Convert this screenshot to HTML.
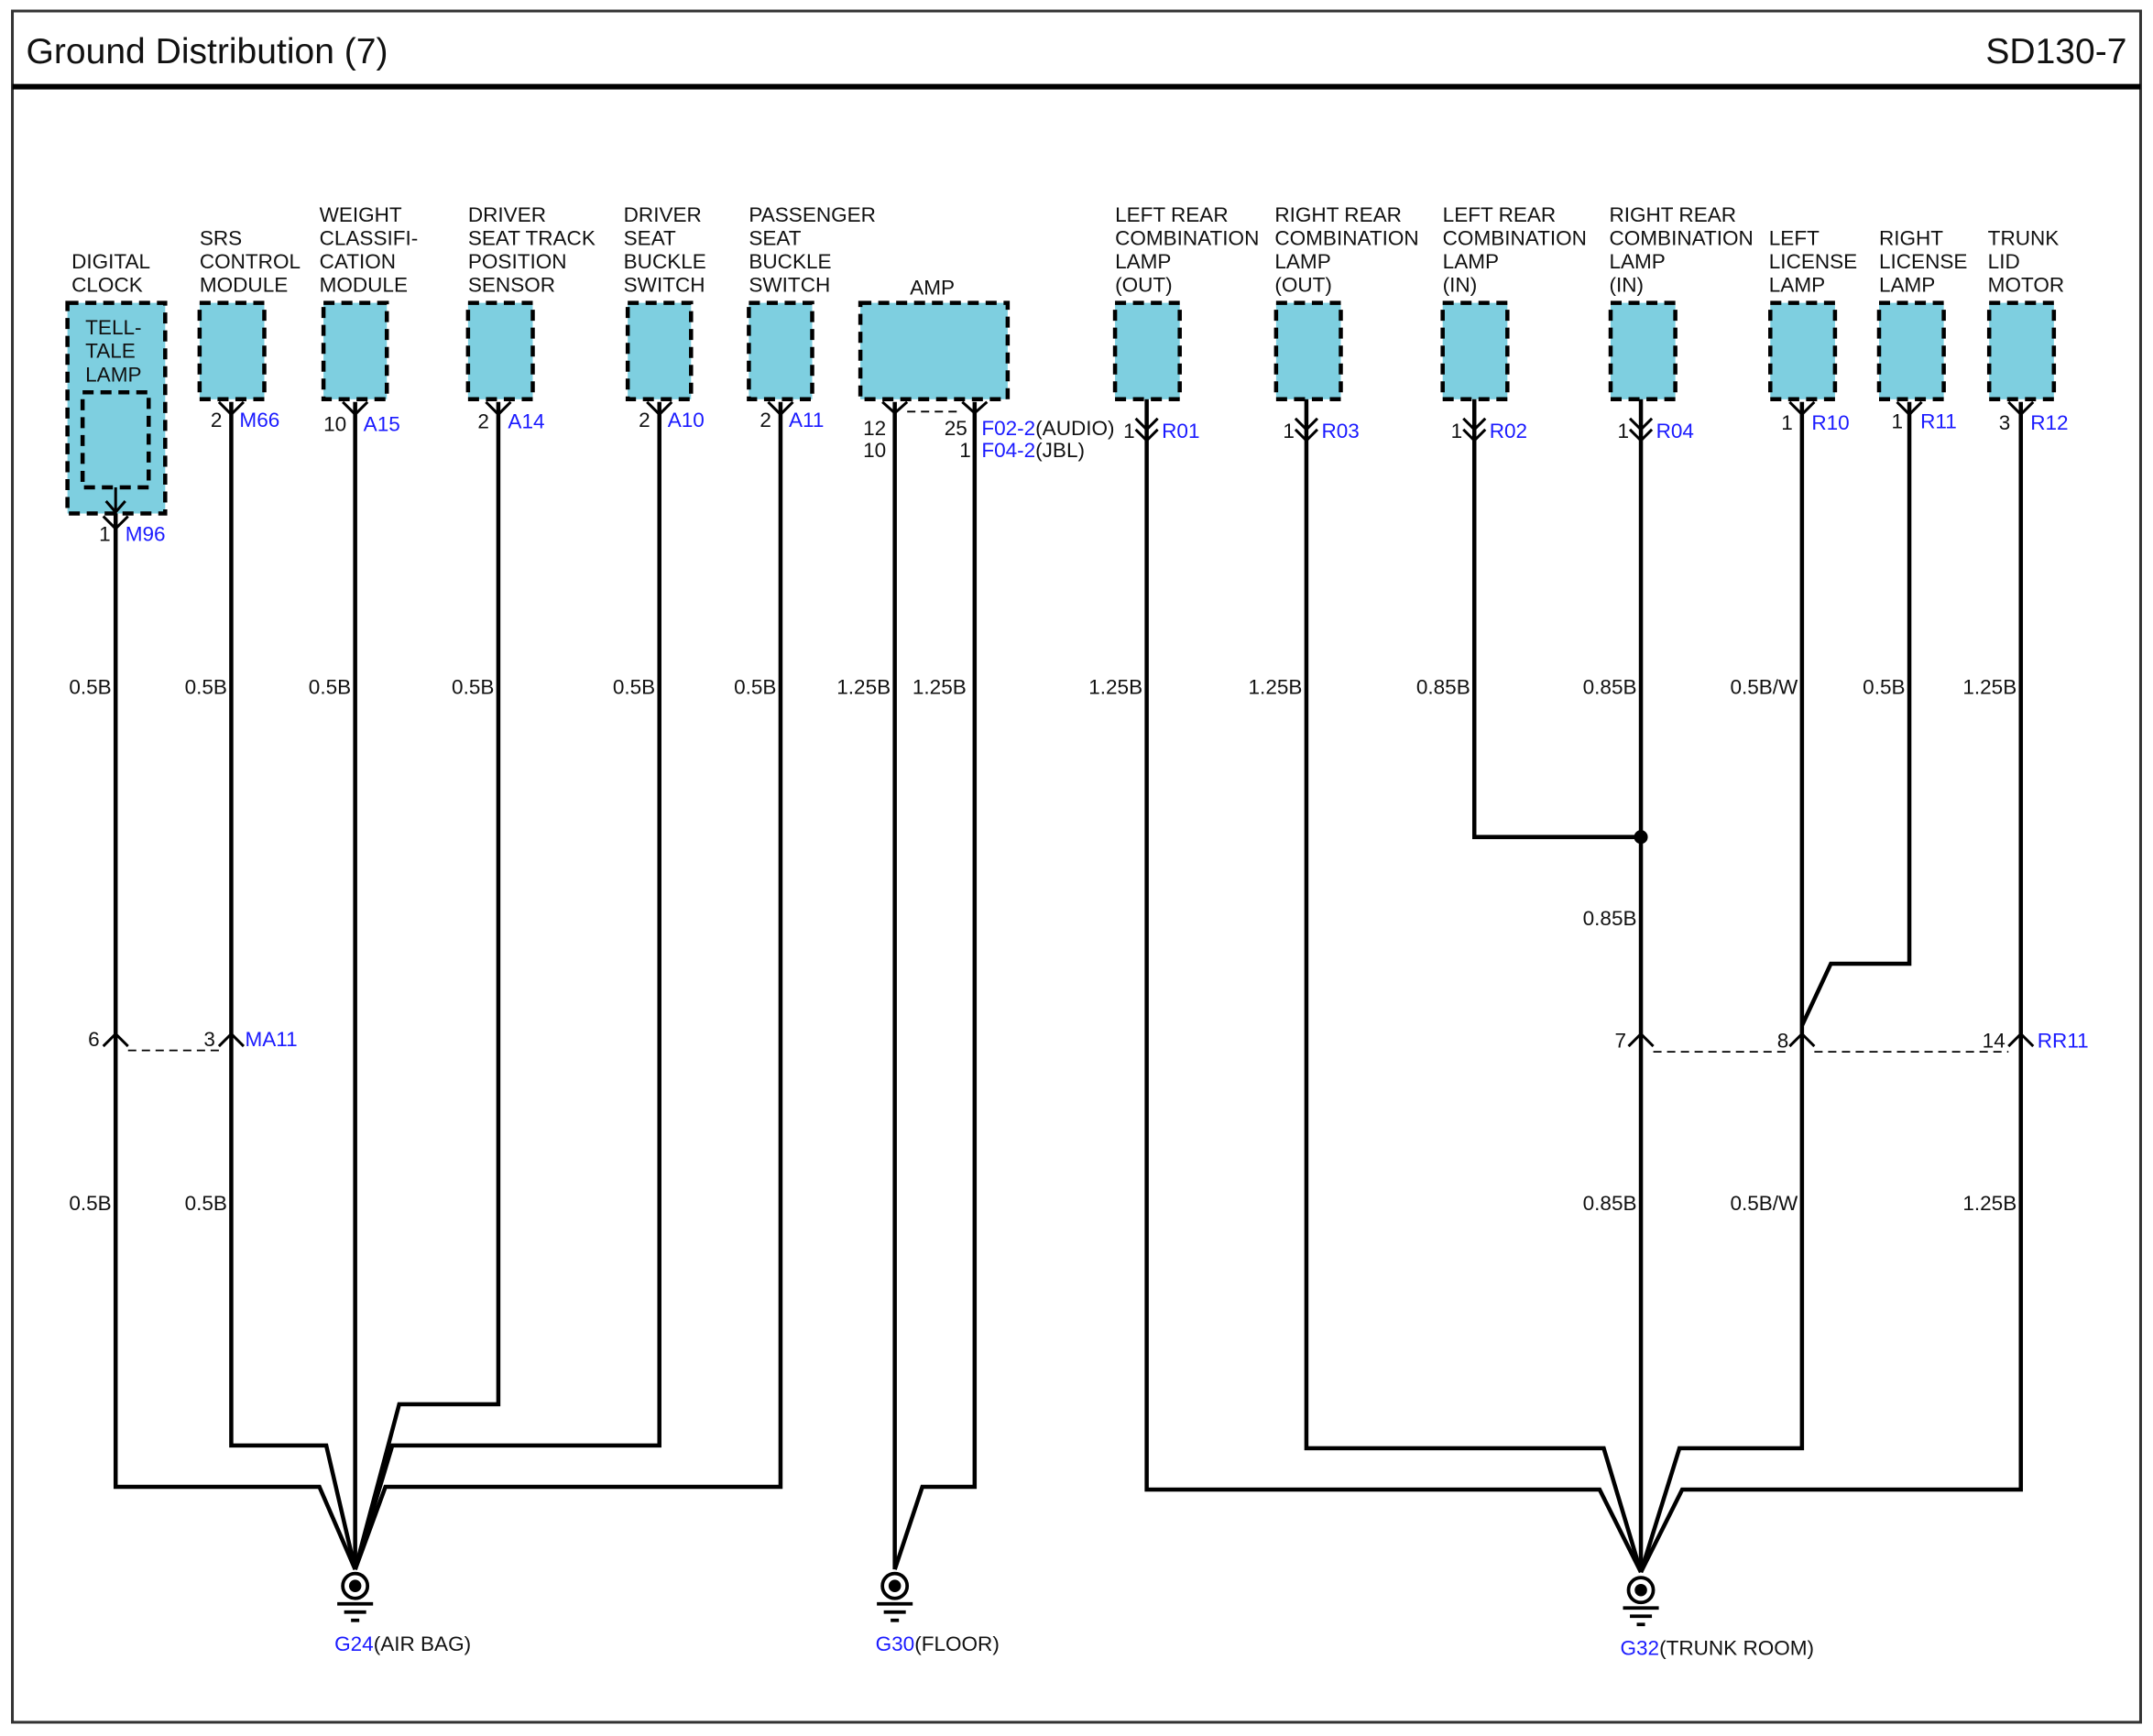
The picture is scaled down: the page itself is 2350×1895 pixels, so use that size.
<!DOCTYPE html>
<html><head><meta charset="utf-8"><style>
html,body{margin:0;padding:0;background:#fff}
svg{display:block}
text{font-family:"Liberation Sans",Arial,sans-serif;font-size:15px;fill:#111}
.b{fill:#1a1aff}
.w{stroke:#000;stroke-width:3;fill:none;stroke-linejoin:miter}
.box{fill:#7ecfe0;stroke:#000;stroke-width:3;stroke-dasharray:8,5}
.c{stroke:#000;stroke-width:2;fill:none}
.d{stroke:#000;stroke-width:1.2;stroke-dasharray:6,4;fill:none}
</style></head><body>
<svg width="2350" height="1895" viewBox="0 0 1564 1261" preserveAspectRatio="none" xmlns="http://www.w3.org/2000/svg">
<rect x="9" y="8" width="1546" height="1243" fill="none" stroke="#333" stroke-width="2"/>
<line x1="9" y1="63" x2="1555" y2="63" stroke="#000" stroke-width="4"/>
<text x="19" y="46" style="font-size:26px">Ground Distribution (7)</text>
<text x="1545" y="46" text-anchor="end" style="font-size:26px">SD130-7</text>

<!-- component labels -->
<g>
<text x="52" y="195">DIGITAL</text><text x="52" y="212">CLOCK</text>
<text x="145" y="178">SRS</text><text x="145" y="195">CONTROL</text><text x="145" y="212">MODULE</text>
<text x="232" y="161">WEIGHT</text><text x="232" y="178">CLASSIFI-</text><text x="232" y="195">CATION</text><text x="232" y="212">MODULE</text>
<text x="340" y="161">DRIVER</text><text x="340" y="178">SEAT TRACK</text><text x="340" y="195">POSITION</text><text x="340" y="212">SENSOR</text>
<text x="453" y="161">DRIVER</text><text x="453" y="178">SEAT</text><text x="453" y="195">BUCKLE</text><text x="453" y="212">SWITCH</text>
<text x="544" y="161">PASSENGER</text><text x="544" y="178">SEAT</text><text x="544" y="195">BUCKLE</text><text x="544" y="212">SWITCH</text>
<text x="661" y="214">AMP</text>
<text x="810" y="161">LEFT REAR</text><text x="810" y="178">COMBINATION</text><text x="810" y="195">LAMP</text><text x="810" y="212">(OUT)</text>
<text x="926" y="161">RIGHT REAR</text><text x="926" y="178">COMBINATION</text><text x="926" y="195">LAMP</text><text x="926" y="212">(OUT)</text>
<text x="1048" y="161">LEFT REAR</text><text x="1048" y="178">COMBINATION</text><text x="1048" y="195">LAMP</text><text x="1048" y="212">(IN)</text>
<text x="1169" y="161">RIGHT REAR</text><text x="1169" y="178">COMBINATION</text><text x="1169" y="195">LAMP</text><text x="1169" y="212">(IN)</text>
<text x="1285" y="178">LEFT</text><text x="1285" y="195">LICENSE</text><text x="1285" y="212">LAMP</text>
<text x="1365" y="178">RIGHT</text><text x="1365" y="195">LICENSE</text><text x="1365" y="212">LAMP</text>
<text x="1444" y="178">TRUNK</text><text x="1444" y="195">LID</text><text x="1444" y="212">MOTOR</text>
</g>

<!-- boxes -->
<rect class="box" x="49" y="220" width="71" height="153"/>
<rect class="box" x="60" y="285" width="48" height="69"/>
<text x="62" y="243">TELL-</text><text x="62" y="260">TALE</text><text x="62" y="277">LAMP</text>
<rect class="box" x="145" y="220" width="47" height="70"/>
<rect class="box" x="235" y="220" width="46" height="70"/>
<rect class="box" x="340" y="220" width="47" height="70"/>
<rect class="box" x="456" y="220" width="46" height="70"/>
<rect class="box" x="544" y="220" width="46" height="70"/>
<rect class="box" x="625" y="220" width="107" height="70"/>
<rect class="box" x="810" y="220" width="47" height="70"/>
<rect class="box" x="927" y="220" width="47" height="70"/>
<rect class="box" x="1048" y="220" width="47" height="70"/>
<rect class="box" x="1170" y="220" width="47" height="70"/>
<rect class="box" x="1286" y="220" width="47" height="70"/>
<rect class="box" x="1365" y="220" width="47" height="70"/>
<rect class="box" x="1445" y="220" width="47" height="70"/>

<!-- connector symbols (Y type) -->
<g class="c">
<path d="M84 354V373M77 364L84 372L91 364"/>
<path d="M75 375L84 384L93 375"/>
<path d="M159 292L168 301L177 292"/>
<path d="M249 292L258 301L267 292"/>
<path d="M353 292L362 301L371 292"/>
<path d="M470 292L479 301L488 292"/>
<path d="M558 292L567 301L576 292"/>
<path d="M641 292L650 300L659 292M699 292L708 300L717 292"/>
</g>
<line x1="659" y1="299" x2="699" y2="299" class="d"/>
<g class="c">
<path d="M159 292L168 301L177 292" transform="translate(1141,0)"/>
<path d="M159 292L168 301L177 292" transform="translate(1219,0)"/>
<path d="M159 292L168 301L177 292" transform="translate(1300,0)"/>
</g>
<!-- R-type -->
<g class="c">
<path d="M825 304L833 312L841 304M825 312L833 320L841 312"/>
<path d="M941 304L949 312L957 304M941 312L949 320L957 312"/>
<path d="M1063 304L1071 312L1079 304M1063 312L1071 320L1079 312"/>
<path d="M1184 304L1192 312L1200 304M1184 312L1192 320L1200 312"/>
</g>
<!-- MA11 / RR11 connectors (inverted) -->
<g class="c">
<path d="M75 760L84 751L93 760"/>
<path d="M159 760L168 751L177 760"/>
<path d="M1183 760L1192 751L1201 760"/>
<path d="M1300 760L1309 751L1318 760"/>
<path d="M1459 760L1468 751L1477 760"/>
</g>
<line x1="93" y1="763" x2="159" y2="763" class="d"/>
<line x1="1201" y1="764" x2="1300" y2="764" class="d"/>
<line x1="1318" y1="764" x2="1459" y2="764" class="d"/>

<!-- wires -->
<g class="w">
<path d="M84 373V1080H232L258 1140"/>
<path d="M168 292V1050H237L258 1140"/>
<path d="M258 292V1140"/>
<path d="M362 292V1020H290L258 1140"/>
<path d="M479 292V1050H285L258 1140"/>
<path d="M567 292V1080H280L258 1140"/>
<path d="M650 292V1140"/>
<path d="M708 292V1080H670L650 1140"/>
<path d="M833 290V1082H1162L1192 1142"/>
<path d="M949 290V1052H1165L1192 1142"/>
<path d="M1071 290V608H1192"/>
<path d="M1192 290V1142"/>
<path d="M1309 292V1052H1220L1192 1142"/>
<path d="M1387 292V700H1330L1309 745"/>
<path d="M1468 292V1082H1222L1192 1142"/>
</g>
<circle cx="1192" cy="608" r="5" fill="#000"/>

<!-- grounds -->
<g>
<circle cx="258" cy="1152" r="9" fill="#fff" stroke="#000" stroke-width="2.5"/><circle cx="258" cy="1152" r="4.5" fill="#000"/>
<path d="M245 1165H271M250 1171H266M255 1177H261" stroke="#000" stroke-width="2.5"/>
<circle cx="650" cy="1152" r="9" fill="#fff" stroke="#000" stroke-width="2.5"/><circle cx="650" cy="1152" r="4.5" fill="#000"/>
<path d="M637 1165H663M642 1171H658M647 1177H653" stroke="#000" stroke-width="2.5"/>
<circle cx="1192" cy="1155" r="9" fill="#fff" stroke="#000" stroke-width="2.5"/><circle cx="1192" cy="1155" r="4.5" fill="#000"/>
<path d="M1179 1168H1205M1184 1174H1200M1189 1180H1195" stroke="#000" stroke-width="2.5"/>
</g>
<text x="243" y="1199"><tspan class="b">G24</tspan>(AIR BAG)</text>
<text x="636" y="1199"><tspan class="b">G30</tspan>(FLOOR)</text>
<text x="1177" y="1202"><tspan class="b">G32</tspan>(TRUNK ROOM)</text>

<!-- pin / connector labels -->
<text x="72" y="393">1</text><text x="91" y="393" class="b">M96</text>
<text x="153" y="310">2</text><text x="174" y="310" class="b">M66</text>
<text x="235" y="313">10</text><text x="264" y="313" class="b">A15</text>
<text x="347" y="311">2</text><text x="369" y="311" class="b">A14</text>
<text x="464" y="310">2</text><text x="485" y="310" class="b">A10</text>
<text x="552" y="310">2</text><text x="573" y="310" class="b">A11</text>
<text x="627" y="316">12</text><text x="686" y="316">25</text>
<text x="627" y="332">10</text><text x="697" y="332">1</text>
<text x="713" y="316"><tspan class="b">F02-2</tspan>(AUDIO)</text>
<text x="713" y="332"><tspan class="b">F04-2</tspan>(JBL)</text>
<text x="816" y="318">1</text><text x="844" y="318" class="b">R01</text>
<text x="932" y="318">1</text><text x="960" y="318" class="b">R03</text>
<text x="1054" y="318">1</text><text x="1082" y="318" class="b">R02</text>
<text x="1175" y="318">1</text><text x="1203" y="318" class="b">R04</text>
<text x="1294" y="312">1</text><text x="1316" y="312" class="b">R10</text>
<text x="1374" y="311">1</text><text x="1395" y="311" class="b">R11</text>
<text x="1452" y="312">3</text><text x="1475" y="312" class="b">R12</text>
<text x="64" y="760">6</text><text x="148" y="760">3</text><text x="178" y="760" class="b">MA11</text>
<text x="1173" y="761">7</text><text x="1291" y="761">8</text><text x="1440" y="761">14</text><text x="1480" y="761" class="b">RR11</text>

<!-- wire sizes -->
<g text-anchor="end">
<text x="81" y="504">0.5B</text><text x="165" y="504">0.5B</text><text x="255" y="504">0.5B</text>
<text x="359" y="504">0.5B</text><text x="476" y="504">0.5B</text><text x="564" y="504">0.5B</text>
<text x="647" y="504">1.25B</text><text x="702" y="504">1.25B</text><text x="830" y="504">1.25B</text>
<text x="946" y="504">1.25B</text><text x="1068" y="504">0.85B</text><text x="1189" y="504">0.85B</text>
<text x="1306" y="504">0.5B/W</text><text x="1384" y="504">0.5B</text><text x="1465" y="504">1.25B</text>
<text x="1189" y="672">0.85B</text>
<text x="81" y="879">0.5B</text><text x="165" y="879">0.5B</text>
<text x="1189" y="879">0.85B</text><text x="1306" y="879">0.5B/W</text><text x="1465" y="879">1.25B</text>
</g>
</svg>
</body></html>
